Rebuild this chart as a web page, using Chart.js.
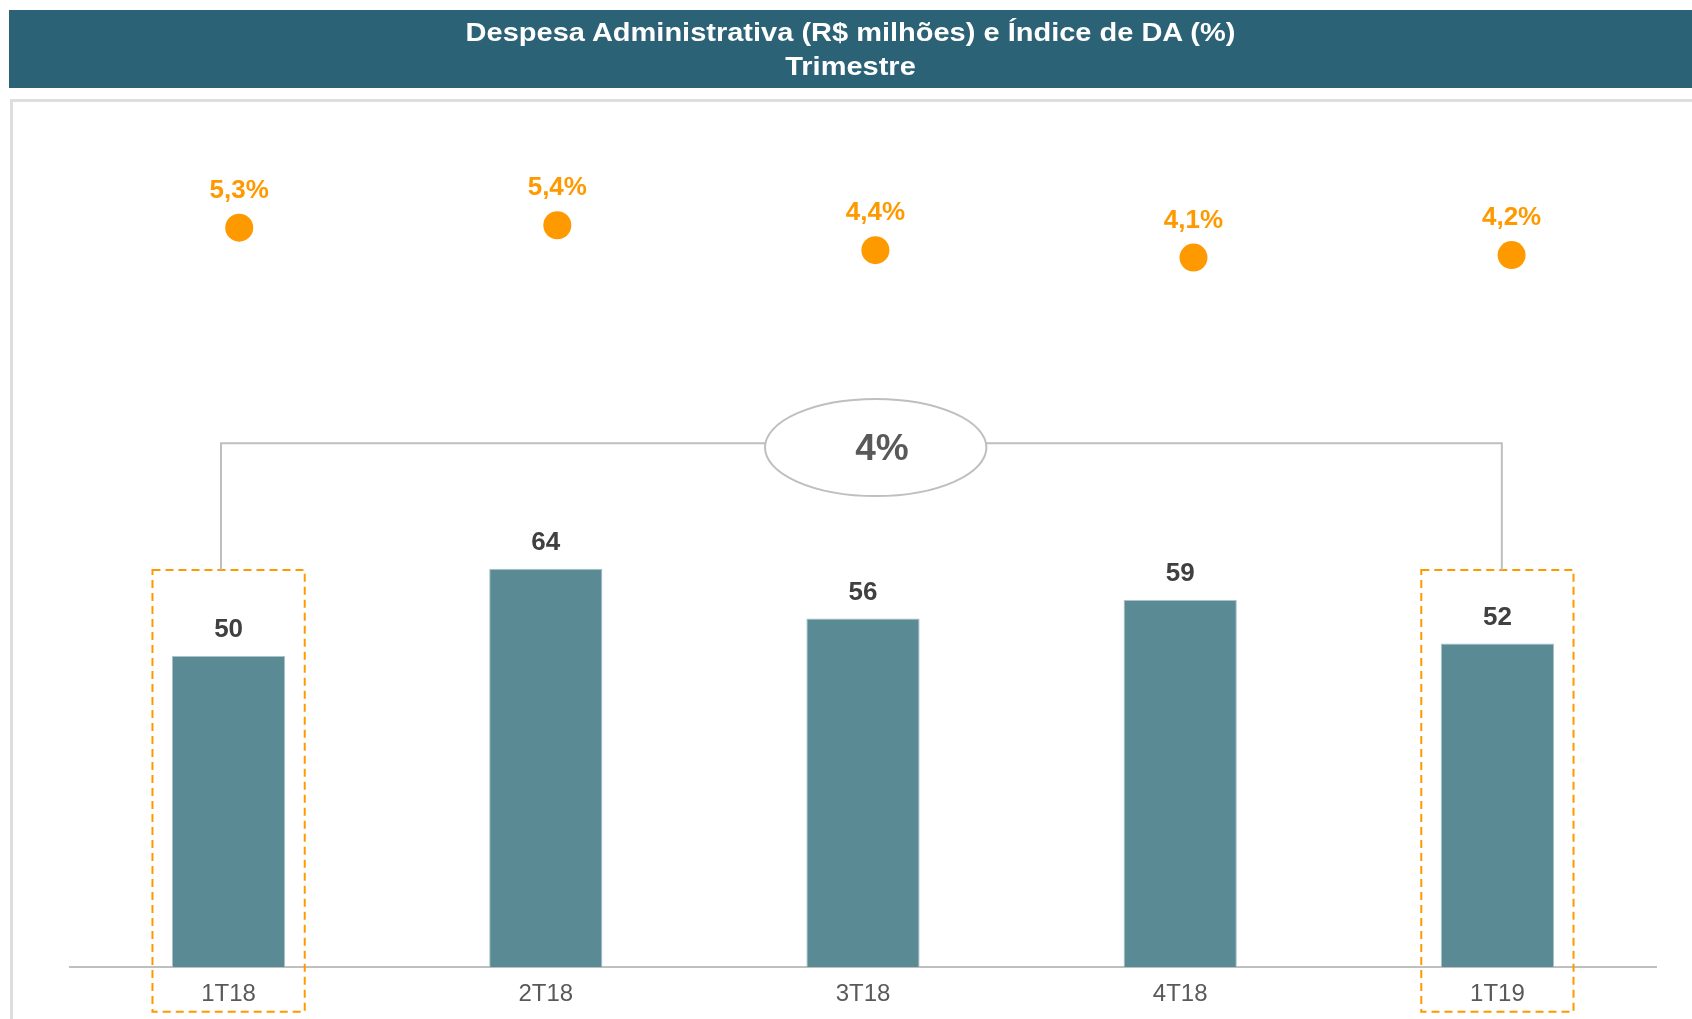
<!DOCTYPE html>
<html>
<head>
<meta charset="utf-8">
<script src="https://cdn.jsdelivr.net/npm/chart.js@4.4.1/dist/chart.umd.min.js"></script>
<style>
    body { margin: 0; background: #fff; font-family: "Liberation Sans", Arial, sans-serif; }
    #header { position: absolute; left: 9px; top: 10px; width: 1683px; height: 78px; background: #2c6276; color: #fff; font-weight: bold; font-size: 25px; text-align: center; z-index: 3; }
    #header div { position: absolute; left: 0; right: 0; line-height: 30px; transform: scaleX(1.16); }
    #panel { position: absolute; left: 10px; top: 99px; width: 1700px; height: 1000px; border-left: 3px solid #dedede; border-top: 3px solid #dedede; z-index: 1; }
    #traffic { position: absolute; left: 0; top: 0; z-index: 2; }
</style>
</head>
<body>
<div id="header">
    <div style="top:7px">Despesa Administrativa (R$ milhões) e Índice de DA (%)</div>
    <div style="top:41px">Trimestre</div>
</div>
<div id="panel"></div>
<canvas id="traffic" width="1692" height="1019"></canvas>
<script>
let ctx = document.getElementById('traffic').getContext('2d');

// Data

let categories = ['1T18', '2T18', '3T18', '4T18', '1T19'];
let despesa = [50, 64, 56, 59, 52];
let indiceDA = [5.3, 5.4, 4.4, 4.1, 4.2];
let growthLabel = '4%';
let highlighted = [0, 4];

// Annotation geometry (category index units / y value units)

let boxes = { halfWidth: 0.24, top: 63.8, bottom: -7.2 };
let bracket = { y: 84.2, left: -0.024, right: 4.014, cx: 2.04, cy: 83.5, rx: 0.349, ry: 7.8 };

let font = '"Liberation Sans", Arial, sans-serif';

let pctText = v => v.toFixed(1).replace('.', ',') + '%';

// Overlay: value labels, dashed boxes, bracket

let overlay = {
    id: 'overlay',
    afterDatasetsDraw(chart) {
        let c = chart.ctx;
        let x = chart.scales.x;
        let y = chart.scales.y;
        let step = x.getPixelForValue(1) - x.getPixelForValue(0);
        let xAt = v => x.getPixelForValue(0) + v * step;

        c.save();

        // bar values
        c.font = 'bold 26px ' + font;
        c.fillStyle = '#404040';
        c.textAlign = 'center';
        c.textBaseline = 'middle';
        chart.getDatasetMeta(0).data.forEach((bar, i) => {
            c.fillText(despesa[i], bar.x, bar.y - 26);
        });

        // index labels
        c.fillStyle = '#ff9900';
        chart.getDatasetMeta(1).data.forEach((pt, i) => {
            c.fillText(pctText(indiceDA[i]), pt.x, pt.y - 37);
        });

        // dashed boxes
        c.strokeStyle = '#ff9900';
        c.lineWidth = 2;
        c.setLineDash([8, 5]);
        highlighted.forEach(i => {
            let l = xAt(i - boxes.halfWidth);
            let r = xAt(i + boxes.halfWidth);
            let t = y.getPixelForValue(boxes.top);
            let b = y.getPixelForValue(boxes.bottom);
            c.strokeRect(l, t, r - l, b - t);
        });
        c.setLineDash([]);

        // bracket
        let by = y.getPixelForValue(bracket.y);
        let bt = y.getPixelForValue(boxes.top);
        c.strokeStyle = '#bfbfbf';
        c.lineWidth = 2;
        c.beginPath();
        c.moveTo(xAt(bracket.left), bt);
        c.lineTo(xAt(bracket.left), by);
        c.lineTo(xAt(bracket.right), by);
        c.lineTo(xAt(bracket.right), bt);
        c.stroke();

        c.beginPath();
        c.ellipse(xAt(bracket.cx), y.getPixelForValue(bracket.cy),
            bracket.rx * step, y.getPixelForValue(0) - y.getPixelForValue(bracket.ry), 0, 0, Math.PI * 2);
        c.fillStyle = '#fff';
        c.fill();
        c.stroke();

        c.font = 'bold 37px ' + font;
        c.fillStyle = '#595959';
        c.fillText(growthLabel, xAt(bracket.cx + 0.02), y.getPixelForValue(bracket.cy) + 2);

        c.restore();
    }
};

// Chart

let chart = new Chart(ctx, {
    type: 'bar',
    data: {
        labels: categories,
        datasets: [{
            data: despesa,
            backgroundColor: '#5a8a94',
            borderColor: '#a9c3c8',
            borderWidth: 1,
            barPercentage: 0.357,
            categoryPercentage: 1,
            grouped: false,
            order: 2
        }, {
            type: 'line',
            data: indiceDA.map((v, i) => ({ x: i, y: v })),
            xAxisID: 'xPct',
            yAxisID: 'y2',
            showLine: false,
            pointRadius: 14,
            pointHoverRadius: 14,
            pointBackgroundColor: '#ff9900',
            pointBorderWidth: 0,
            order: 1
        }]
    },
    options: {
        responsive: false,
        devicePixelRatio: 1,
        animation: false,
        layout: {
            padding: { top: 96, left: 70, right: 36, bottom: 0 }
        },
        scales: {
            x: {
                grid: { display: false, drawTicks: false },
                border: { color: '#bfbfbf', width: 2 },
                ticks: { color: '#595959', padding: 13, font: { family: font, size: 24 } },
                afterFit: s => { s.height = 52; }
            },
            xPct: { type: 'linear', display: false, offset: false, min: -0.532, max: 4.454 },
            y: { display: false, min: 0, max: 140 },
            y2: { display: false, min: -24.39, max: 10.59 }
        },
        plugins: {
            legend: { display: false },
            tooltip: { enabled: false }
        }
    },
    plugins: [overlay]
});
</script>
</body>
</html>
